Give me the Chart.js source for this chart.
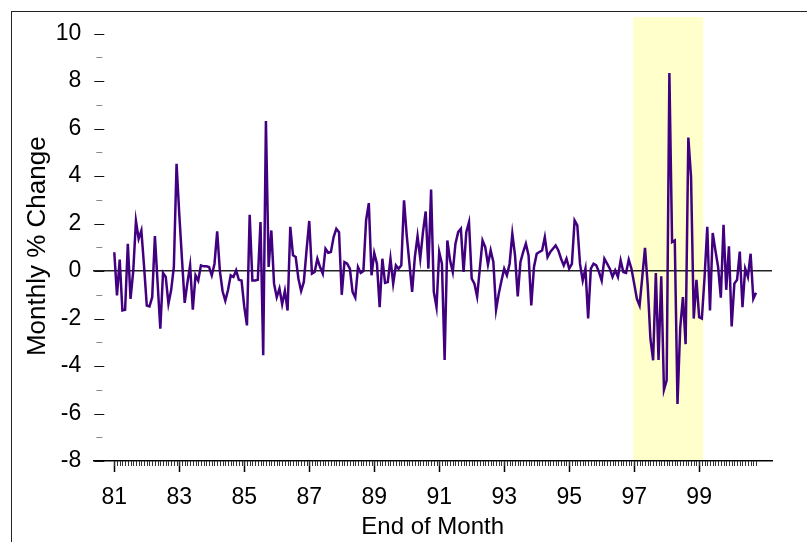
<!DOCTYPE html>
<html>
<head>
<meta charset="utf-8">
<script src="https://cdn.jsdelivr.net/npm/chart.js@4.4.1/dist/chart.umd.min.js"></script>
<style>
  html, body { margin: 0; padding: 0; background: #fff; }
  #wrap { position: relative; width: 807px; height: 542px; overflow: hidden; }
  #frame { position: absolute; left: 11px; top: 11px; width: 830px; height: 560px; border: 1px solid #222; box-sizing: border-box; pointer-events: none; }
  canvas { position: absolute; left: 0; top: 0; }
</style>
</head>
<body>
<div id="wrap">
  <canvas id="chart" width="807" height="542"></canvas>
  <div id="frame"></div>
</div>
<script>
// month index 0 = Jan 1981, one value per month
const monthlyChange = [
  0.79, -1.03, 0.48, -1.66, -1.63, 1.15, -1.17, 0.0, 2.11, 1.36, 1.71, 0.2,      // 81
  -1.45, -1.49, -1.1, 1.47, -0.5, -2.43, -0.08, -0.25, -1.38, -0.8, 0.17, 4.52,  // 82
  2.4, 0.5, -1.34, -0.5, 0.24, -1.63, -0.18, -0.4, 0.24, 0.2, 0.2, 0.17,         // 83
  -0.18, 0.3, 1.67, 0.0, -0.85, -1.25, -0.8, -0.18, -0.25, 0.03, -0.37, -0.4,    // 84
  -1.5, -2.29, 2.37, -0.4, -0.4, -0.37, 2.06, -3.55, 6.32, 0.17, 1.71, -0.53,    // 85
  -1.1, -0.74, -1.4, -0.84, -1.66, 1.86, 0.66, 0.59, -0.32, -0.84, -0.46, 0.87,  // 86
  2.11, -0.11, -0.04, 0.52, 0.17, -0.11, 0.94, 0.77, 0.8, 1.43, 1.78, 1.64,      // 87
  -1.0, 0.38, 0.31, 0.1, -0.88, -1.12, 0.17, -0.08, 0.0, 2.14, 2.86, -0.18,      // 88
  0.76, 0.31, -1.52, 0.52, -0.5, -0.46, 0.52, -0.53, 0.24, 0.1, 0.24, 2.98,      // 89
  1.5, 0.31, -0.88, 0.59, 1.47, 0.52, 1.64, 2.51, 0.1, 3.43, -0.88, -1.52,       // 90
  0.8, 0.31, -3.74, 1.29, 0.45, -0.04, 1.15, 1.64, 1.78, -0.04, 1.64, 2.06,      // 91
  -0.32, -0.53, -1.07, 0.1, 1.29, 1.01, 0.27, 0.87, 0.38, -1.63, -0.95, -0.4,    // 92
  0.1, -0.18, 0.31, 1.57, 0.66, -1.07, 0.38, 0.8, 1.15, 0.66, -1.45, 0.17,       // 93
  0.73, 0.8, 0.87, 1.43, 0.59, 0.8, 0.94, 1.08, 0.87, 0.52, 0.24, 0.52,          // 94
  0.1, 0.3, 2.13, 1.92, 0.3, -0.4, 0.1, -2.0, 0.1, 0.31, 0.24, -0.04,            // 95
  -0.4, 0.52, 0.31, 0.1, -0.25, 0.03, -0.25, 0.45, -0.04, -0.08, 0.48, 0.1,      // 96
  -0.53, -1.17, -1.45, -0.25, 0.98, -0.6, -2.85, -3.76, -0.08, -3.74, -0.22, -5.0, // 97
  -4.6, 8.34, 1.22, 1.29, -5.6, -2.4, -1.1, -3.08, 5.62, 3.96, -2.0, -0.37,      // 98
  -1.94, -2.0, -0.25, 1.86, -1.66, 1.6, 0.87, 0.17, -1.12, 1.95, -0.79, 1.04,    // 99
  -2.33, -0.53, -0.37, 0.82, -1.52, 0.1, -0.25, 0.73, -1.17, -0.91               // 00
];

// x tick labels (every 2 years, at January)
const xTickLabels = ["81", "83", "85", "87", "89", "91", "93", "95", "97", "99"];
const xTickMonths = [0, 24, 48, 72, 96, 120, 144, 168, 192, 216];
// y ticks (labels only on even ones)
const yTickValues = [-8, -7, -6, -5, -4, -3, -2, -1, 0, 1, 2, 3, 4, 5, 6, 7, 8, 9, 10];
// shaded period (month index)
const shadeFrom = 191.6;
const shadeTo = 217.5;

const FONT = "'Liberation Sans', Arial, sans-serif";

// 底色 + 刻度小短线
const marksPlugin = {
  id: "marks",
  beforeDraw(chart) {
    const { ctx, chartArea, scales } = chart;
    const x0 = scales.x.getPixelForValue(shadeFrom);
    const x1 = scales.x.getPixelForValue(shadeTo);
    ctx.save();
    ctx.fillStyle = "#ffffcc";
    ctx.fillRect(x0, chartArea.top, x1 - x0, chartArea.bottom - chartArea.top);
    ctx.restore();
  },
  afterDraw(chart) {
    const { ctx, chartArea, scales } = chart;
    ctx.save();
    ctx.lineWidth = 1;
    // y tick dashes
    yTickValues.forEach((v) => {
      const py = Math.round(scales.y.getPixelForValue(v)) + 0.5;
      const major = v % 2 === 0;
      ctx.strokeStyle = major ? "#111" : "#888";
      ctx.beginPath();
      ctx.moveTo(chartArea.left + (major ? 1 : 3), py);
      ctx.lineTo(chartArea.left + (major ? 11 : 9), py);
      ctx.stroke();
    });
    // monthly minor ticks on x axis
    ctx.strokeStyle = "#333";
    for (let i = 0; i < monthlyChange.length; i++) {
      const px = Math.round(scales.x.getPixelForValue(i)) + 0.5;
      ctx.beginPath();
      ctx.moveTo(px, chartArea.bottom);
      ctx.lineTo(px, chartArea.bottom + 5);
      ctx.stroke();
    }
    ctx.restore();
  }
};

new Chart(document.getElementById("chart"), {
  type: "line",
  data: {
    datasets: [{
      data: monthlyChange.map((v, i) => ({ x: i, y: v })),
      borderColor: "#40007f",
      borderWidth: 2.5,
      pointRadius: 0,
      tension: 0,
      fill: false
    }]
  },
  options: {
    responsive: false,
    animation: false,
    layout: { padding: { top: 17, right: 35, left: 0, bottom: 0 } },
    plugins: { legend: { display: false }, tooltip: { enabled: false } },
    scales: {
      x: {
        type: "linear",
        position: "bottom",
        min: -7.75,
        max: 242.9,
        afterBuildTicks: (s) => { s.ticks = xTickMonths.map((v) => ({ value: v })); },
        afterFit: (s) => { s.height = 81; },
        ticks: {
          autoSkip: false,
          maxRotation: 0,
          padding: 12,
          color: "#000",
          font: { family: FONT, size: 23 },
          callback: (v) => xTickLabels[xTickMonths.indexOf(v)] || ""
        },
        grid: { drawOnChartArea: false, drawTicks: true, tickLength: 11, tickColor: "#000", tickWidth: 1.5 },
        border: { display: true, color: "#000", width: 1.5 },
        title: {
          display: true,
          text: "End of Month",
          color: "#000",
          font: { family: FONT, size: 24 },
          padding: { top: 0, bottom: 0 }
        }
      },
      y: {
        min: -8,
        max: 10.7,
        afterBuildTicks: (s) => { s.ticks = yTickValues.map((v) => ({ value: v })); },
        afterFit: (s) => {
          s.width = 93.3;
          // 不要为顶部标签留额外空间
          s.paddingTop = 0;
          s.paddingBottom = 0;
        },
        ticks: {
          autoSkip: false,
          padding: 12,
          color: "#000",
          font: { family: FONT, size: 23 },
          callback: (v) => (v % 2 === 0 ? String(v) : "")
        },
        grid: {
          drawTicks: false,
          color: (c) => (c.tick && c.tick.value === 0 ? "#222" : "rgba(0,0,0,0)"),
          lineWidth: 1.5
        },
        border: { display: false },
        title: {
          display: true,
          text: "Monthly % Change\u00a0\u00a0",
          color: "#000",
          font: { family: FONT, size: 26 },
          padding: { top: 22, bottom: 0 }
        }
      }
    }
  },
  plugins: [marksPlugin]
});
</script>
</body>
</html>
